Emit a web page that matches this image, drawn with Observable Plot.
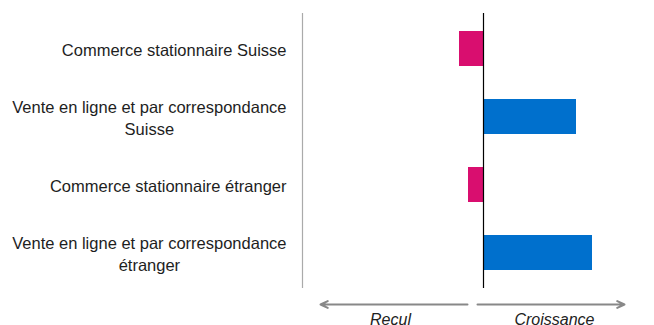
<!DOCTYPE html>
<html><head><meta charset="utf-8">
<script src="https://cdn.jsdelivr.net/npm/d3@7"></script>
<script src="https://cdn.jsdelivr.net/npm/@observablehq/plot@0.6"></script>
<style>
body{margin:0;background:#fff;}
#chart svg{display:block;}
</style>
</head><body><div id="chart"></div>
<script>
// Data
const categories = ["csCH", "vlCH", "csET", "vlET"];
const tickLabels = [
  "Commerce stationnaire Suisse",
  "Vente en ligne et par correspondance\nSuisse",
  "Commerce stationnaire étranger",
  "Vente en ligne et par correspondance\nétranger"
];
const values = [-2.4, 9.3, -1.5, 10.9];
const xDomain = [-18.1, 17.1];
const arrowStarts = [-1.6, -0.6];
const arrowEnds = [-16.3, 14.1];
const arrowLabels = ["Recul", "Croissance"];
const arrowLabelX = [-9.3, 7.1];

const W = 654, ML = 302, MR = 0, PAD = 16;
const fontFamily = "'Liberation Sans', Arial, sans-serif";
const labelSize = 16.5;
const ctx = document.createElement("canvas").getContext("2d");
ctx.font = `${labelSize}px ${fontFamily}`;
const px = d3.scaleLinear(xDomain, [ML, W - MR]);
const rows = categories.map((c, i) => {
  const w = d3.max(tickLabels[i].split("\n"), s => ctx.measureText(s).width);
  return {cat: c, value: values[i], label: tickLabels[i], lx: px.invert(ML - PAD - w / 2)};
});

const main = Plot.plot({
  width: W, height: 290,
  marginLeft: ML, marginRight: MR, marginTop: 13, marginBottom: 2,
  style: {fontFamily, background: "#fff"},
  x: {domain: xDomain, axis: null},
  y: {domain: categories, paddingInner: 0.49, paddingOuter: 0.25, axis: null},
  marks: [
    Plot.ruleX([xDomain[0]], {stroke: "#aaaaaa", strokeWidth: 1.2}),
    Plot.barX(rows, {x: "value", y: "cat", fill: d => d.value < 0 ? "#d90e6f" : "#0070cd"}),
    Plot.ruleX([0], {stroke: "#000", strokeWidth: 1.2}),
    Plot.text(rows, {x: "lx", y: "cat", text: "label", textAnchor: "middle",
      fontSize: labelSize, lineHeight: 1.33, fill: "#1e1e1e", clip: false})
  ]
});

const arrows = arrowStarts.map((s, i) => ({x1: s, x2: arrowEnds[i], y: 14}));
const labels = arrowLabels.map((t, i) => ({x: arrowLabelX[i], t, y: 29.5}));
const foot = Plot.plot({
  width: W, height: 35,
  marginLeft: ML, marginRight: MR, marginTop: 0, marginBottom: 0,
  style: {fontFamily, background: "#fff", overflow: "hidden"},
  x: {domain: xDomain, axis: null},
  y: {domain: [0, 35], range: [0, 35], axis: null},
  marks: [
    Plot.arrow(arrows, {x1: "x1", x2: "x2", y1: "y", y2: "y", stroke: "#888", strokeWidth: 2, headLength: 6, headAngle: 50, clip: false}),
    Plot.text(labels, {x: "x", y: "y", text: "t", fontSize: 16, fontStyle: "italic", fill: "#222", lineAnchor: "middle", clip: false})
  ]
});
document.getElementById("chart").append(main, foot);
</script></body></html>
